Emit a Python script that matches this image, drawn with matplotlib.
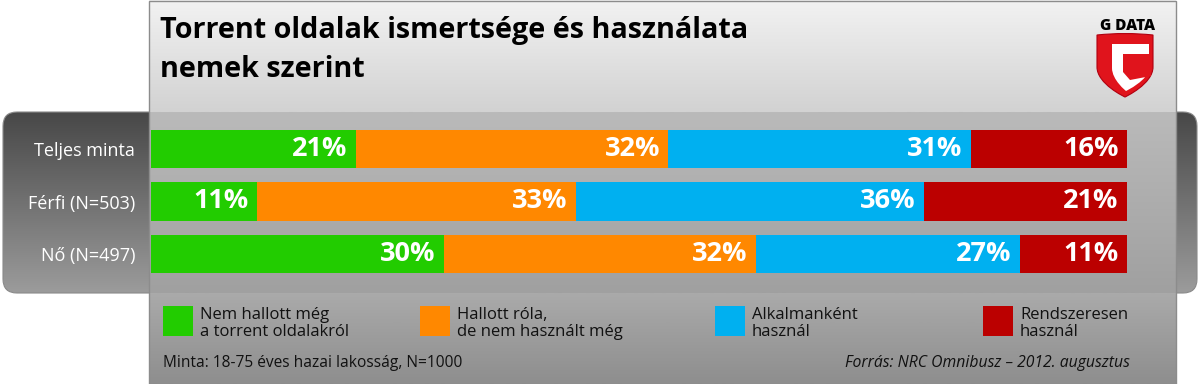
import numpy as np
import matplotlib
matplotlib.use("Agg")
import matplotlib.pyplot as plt
from matplotlib.patches import FancyBboxPatch, Rectangle, PathPatch, Polygon
from matplotlib.path import Path

# ---------------- data ----------------
title_lines = ["Torrent oldalak ismertsége és használata", "nemek szerint"]
categories = ["Teljes minta", "Férfi (N=503)", "Nő (N=497)"]
series_names = ["Nem hallott még\na torrent oldalakról",
                "Hallott róla,\nde nem használt még",
                "Alkalmanként\nhasznál",
                "Rendszeresen\nhasznál"]
nem_hallott = [21, 11, 30]
hallott = [32, 33, 32]
alkalmankent = [31, 36, 27]
rendszeresen = [16, 21, 11]
colors = ["#22cc00", "#ff8800", "#00b0f0", "#bb0000"]
note_left = "Minta: 18-75 éves hazai lakosság, N=1000"
note_right = "Forrás: NRC Omnibusz – 2012. augusztus"

FONT = "Open Sans"
W, H = 1200, 384
fig = plt.figure(figsize=(W / 100, H / 100), dpi=100)
fig.patch.set_facecolor("white")

bg = fig.add_axes([0, 0, 1, 1])
bg.set_xlim(0, W)
bg.set_ylim(H, 0)
bg.axis("off")


def vgrad(ax, x0, x1, y0, y1, ctop, cbot, clip=None, z=0):
    n = 64
    t = np.linspace(0, 1, n)[:, None]
    top = np.array(ctop) / 255.0
    bot = np.array(cbot) / 255.0
    img = (top[None, :] * (1 - t) + bot[None, :] * t)[:, None, :]
    im = ax.imshow(img, extent=(x0, x1, y1, y0), aspect="auto",
                   interpolation="bilinear", zorder=z)
    if clip is not None:
        im.set_clip_path(clip)
    return im


# dark rounded band
band = FancyBboxPatch((3, 112), 1194, 181,
                      boxstyle="round,pad=0,rounding_size=14",
                      facecolor="none", edgecolor="#8a8a8a", lw=0.8, zorder=1)
bg.add_patch(band)
vgrad(bg, 3, 1197, 112, 293, (72, 72, 72), (155, 155, 155), clip=band, z=0.5)

# light panel
PX0, PX1 = 149, 1176
vgrad(bg, PX0, PX1, 0, 112, (242, 242, 242), (210, 210, 210), z=2)
vgrad(bg, PX0, PX1, 112, 293, (186, 186, 186), (160, 160, 160), z=2)
vgrad(bg, PX0, PX1, 293, 384, (170, 170, 170), (142, 142, 142), z=2)
bg.add_patch(Rectangle((PX0, 0.5), PX1 - PX0, H - 1, facecolor="none",
                       edgecolor="#8c8c8c", lw=1.0, zorder=3))

# title
bg.text(160, 38, title_lines[0], fontsize=20.7, fontweight="bold",
        family=FONT, color="black", va="baseline", ha="left", zorder=5)
bg.text(160, 77, title_lines[1], fontsize=20.7, fontweight="bold",
        family=FONT, color="black", va="baseline", ha="left", zorder=5)

# logo
bg.text(1128, 26, "G DATA", fontsize=11, fontweight="heavy", family=FONT,
        color="black", ha="center", va="center", zorder=5)
verts = [(1097, 35), (1125, 32), (1153, 35), (1153, 67),
         (1153, 84), (1125, 97), (1125, 97),
         (1125, 97), (1097, 84), (1097, 67), (1097, 35)]
codes = [Path.MOVETO, Path.CURVE3, Path.CURVE3, Path.LINETO,
         Path.CURVE4, Path.CURVE4, Path.CURVE4,
         Path.CURVE4, Path.CURVE4, Path.CURVE4, Path.CLOSEPOLY]
bg.add_patch(PathPatch(Path(verts, codes), facecolor="#e0141c",
                       edgecolor="#b00010", lw=0.8, zorder=5))
wverts = [(1112, 44), (1149, 44), (1149, 68),
          (1149, 80), (1126, 91), (1126, 91),
          (1126, 91), (1112, 80), (1112, 68), (1112, 44)]
wcodes = [Path.MOVETO, Path.LINETO, Path.LINETO,
          Path.CURVE4, Path.CURVE4, Path.CURVE4,
          Path.CURVE4, Path.CURVE4, Path.CURVE4, Path.CLOSEPOLY]
bg.add_patch(PathPatch(Path(wverts, wcodes), facecolor="white",
                       edgecolor="none", zorder=6))
bg.add_patch(Polygon([(1123, 54), (1151, 54), (1151, 76), (1130, 80),
                      (1123, 72)], closed=True, facecolor="#e0141c",
                     edgecolor="none", zorder=7))

# ---------------- bars ----------------
BX0, BX1 = 151, 1127
BY0, BY1 = 123, 280
ax = fig.add_axes([BX0 / W, (H - BY1) / H, (BX1 - BX0) / W, (BY1 - BY0) / H])
ax.set_zorder(10)
ax.patch.set_visible(False)
ax.set_xlim(0, 100)
ax.set_ylim(len(categories) - 0.5, -0.5)
for s in ax.spines.values():
    s.set_visible(False)
ax.set_xticks([])
ax.set_yticks(range(len(categories)))
ax.set_yticklabels(categories, color="white", fontsize=13, family=FONT)
ax.tick_params(axis="y", length=0, pad=11.5)

series = [nem_hallott, hallott, alkalmankent, rendszeresen]
totals = np.sum(np.array(series, dtype=float), axis=0)
left = np.zeros(len(categories))
for vals, col in zip(series, colors):
    vals = np.array(vals, dtype=float)
    width = vals / totals * 100
    ax.barh(range(len(categories)), width, left=left, height=0.73,
            color=col, edgecolor="none")
    for i, (l, w, v) in enumerate(zip(left, width, vals)):
        ax.annotate(f"{int(v)}%", xy=(l + w, i), xytext=(-6, 0),
                    textcoords="offset points", ha="right", va="center",
                    color="white", fontsize=19.5, fontweight="bold",
                    family=FONT)
    left = left + width

# ---------------- legend ----------------
leg_x = [163, 420, 715, 983]
for x, col, name in zip(leg_x, colors, series_names):
    bg.add_patch(Rectangle((x, 306), 30, 30, facecolor=col,
                           edgecolor="none", zorder=5))
    for k, line in enumerate(name.split("\n")):
        bg.text(x + 37, 319 + 17.5 * k, line, fontsize=12, family=FONT,
                color="#111111", ha="left", va="baseline", zorder=5)

bg.text(163, 363, note_left, fontsize=11.2, family=FONT, color="#111111",
        ha="left", va="center", zorder=5)
bg.text(1130, 363, note_right, fontsize=11.3, family=FONT, style="italic",
        color="#111111", ha="right", va="center", zorder=5)

fig.savefig("out.png", dpi=100)
